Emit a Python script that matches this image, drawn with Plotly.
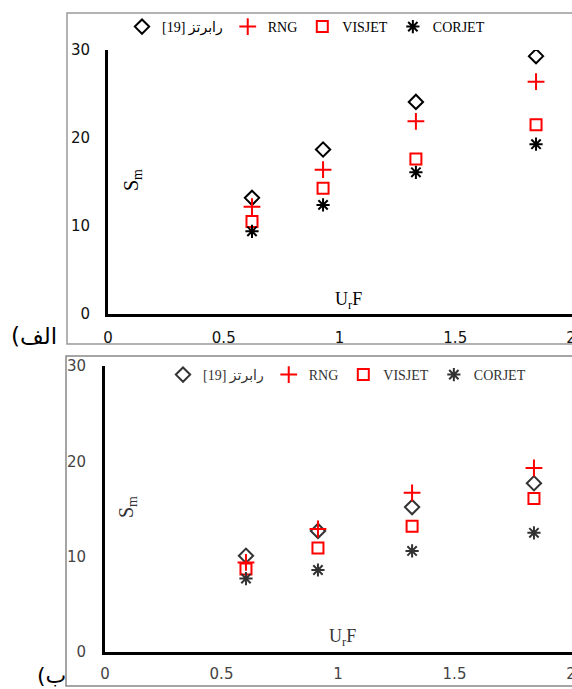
import plotly.graph_objects as go

# ---------------- data ----------------
series_names = ["[19] رابرتز", "RNG", "VISJET", "CORJET"]

top_x = [0.622, 0.929, 1.330, 1.849]
top_roberts = [13.2, 18.7, 24.1, 29.3]
top_rng = [12.2, 16.4, 21.9, 26.4]
top_visjet = [10.5, 14.3, 17.6, 21.5]
top_corjet = [9.4, 12.4, 16.1, 19.3]

bot_x = [0.605, 0.914, 1.318, 1.841]
bot_roberts = [10.1, 12.7, 15.2, 17.7]
bot_rng = [9.4, 12.9, 16.7, 19.3]
bot_visjet = [8.7, 10.9, 13.2, 16.1]
bot_corjet = [7.7, 8.6, 10.6, 12.5]

x_tick_vals = [0, 0.5, 1, 1.5, 2]
x_tick_text = ["0", "0.5", "1", "1.5", "2"]
y_tick_vals = [0, 10, 20, 30]
y_tick_text = ["0", "10", "20", "30"]

panel_labels = ["(الف", "(ب"]
x_title = "U<sub>r</sub>F"
y_title = "S<sub>m</sub>"

# ---------------- figure ----------------
W, H = 572, 689

def px(x):
    return x / W

def py(y):
    return 1 - y / H

styles = [
    dict(symbol="diamond-open", size=11, color="black", line=dict(width=2, color="black")),
    dict(symbol="cross-thin-open", size=12, color="red", line=dict(width=2, color="red")),
    dict(symbol="square-open", size=11, color="red", line=dict(width=2, color="red")),
    dict(symbol="asterisk-open", size=11, color="black", line=dict(width=2, color="black")),
]

fig = go.Figure()

top_series = [top_roberts, top_rng, top_visjet, top_corjet]
bot_series = [bot_roberts, bot_rng, bot_visjet, bot_corjet]

for name, ys, st in zip(series_names, top_series, styles):
    fig.add_trace(go.Scatter(x=top_x, y=ys, mode="markers", name=name, marker=st,
                             xaxis="x", yaxis="y", legend="legend"))
for name, ys, st in zip(series_names, bot_series, styles):
    st2 = dict(st)
    if st2["color"] == "black":
        st2 = dict(st2, color="#333", line=dict(width=2, color="#333"))
    fig.add_trace(go.Scatter(x=bot_x, y=ys, mode="markers", name=name, marker=st2,
                             xaxis="x2", yaxis="y2", legend="legend2"))

tickfont_top = dict(family="DejaVu Sans", size=15, color="#111")
tickfont_bot = dict(family="DejaVu Sans", size=15, color="#444")

axis_common = dict(showgrid=False, zeroline=False, showline=True, linecolor="black",
                   linewidth=3, ticks="", mirror=False, automargin=False)

fig.update_layout(
    width=W, height=H,
    margin=dict(l=0, r=0, t=0, b=0, pad=0, autoexpand=False),
    paper_bgcolor="white", plot_bgcolor="white",
    xaxis=dict(domain=[px(108), 1], range=[0, (572 - 108) / 231.5], tickvals=x_tick_vals,
               ticktext=x_tick_text, tickfont=tickfont_top, anchor="y",
               ticklabelstandoff=8, ticklabeloverflow="allow", **axis_common),
    yaxis=dict(domain=[py(314), py(50)], range=[0, 30], tickvals=y_tick_vals,
               ticktext=y_tick_text, tickfont=tickfont_top, anchor="x",
               ticklabelstandoff=12, **axis_common),
    xaxis2=dict(domain=[px(105), 1], range=[0, (572 - 105) / 233], tickvals=x_tick_vals,
                ticktext=x_tick_text, tickfont=tickfont_bot, anchor="y2",
                ticklabelstandoff=6, ticklabeloverflow="allow", **axis_common),
    yaxis2=dict(domain=[py(652), py(366)], range=[0, 30], tickvals=y_tick_vals,
                ticktext=y_tick_text, tickfont=tickfont_bot, anchor="x2",
                ticklabelstandoff=13, **axis_common),
    legend=dict(orientation="h", x=px(122), y=py(27), xanchor="left", yanchor="middle",
                font=dict(family="Liberation Serif, DejaVu Sans", size=14, color="black"),
                bgcolor="rgba(0,0,0,0)", itemclick=False),
    legend2=dict(orientation="h", x=px(163), y=py(375), xanchor="left", yanchor="middle",
                 font=dict(family="Liberation Serif, DejaVu Sans", size=14, color="#333"),
                 bgcolor="rgba(0,0,0,0)", itemclick=False),
    showlegend=True,
)

# frames around each panel
fig.add_shape(type="rect", xref="paper", yref="paper", x0=px(67), x1=1.05,
              y0=py(344), y1=py(13), line=dict(color="#999", width=1.5), layer="below")
fig.add_shape(type="rect", xref="paper", yref="paper", x0=px(66), x1=1.05,
              y0=py(686), y1=py(356), line=dict(color="#888", width=1.5), layer="below")

ann_common = dict(xref="paper", yref="paper", showarrow=False)

# axis titles
fig.add_annotation(text=x_title, x=px(348), y=py(300), xanchor="center", yanchor="middle",
                   font=dict(family="Liberation Serif", size=18, color="black"), **ann_common)
fig.add_annotation(text=x_title, x=px(342), y=py(637), xanchor="center", yanchor="middle",
                   font=dict(family="Liberation Serif", size=18, color="#333"), **ann_common)
fig.add_annotation(text=y_title, x=px(132), y=py(180), xanchor="center", yanchor="middle",
                   textangle=-90, font=dict(family="Liberation Serif", size=20, color="black"),
                   **ann_common)
fig.add_annotation(text=y_title, x=px(128), y=py(507), xanchor="center", yanchor="middle",
                   textangle=-90, font=dict(family="Liberation Serif", size=20, color="#333"),
                   **ann_common)

# panel labels
fig.add_annotation(text=panel_labels[0], x=px(59), y=py(336), xanchor="right",
                   yanchor="middle", font=dict(family="DejaVu Sans", size=23, color="black"),
                   **ann_common)
fig.add_annotation(text=panel_labels[1], x=px(68), y=py(675), xanchor="right",
                   yanchor="middle", font=dict(family="DejaVu Sans", size=22, color="black"),
                   **ann_common)

fig.write_html("out.html")
